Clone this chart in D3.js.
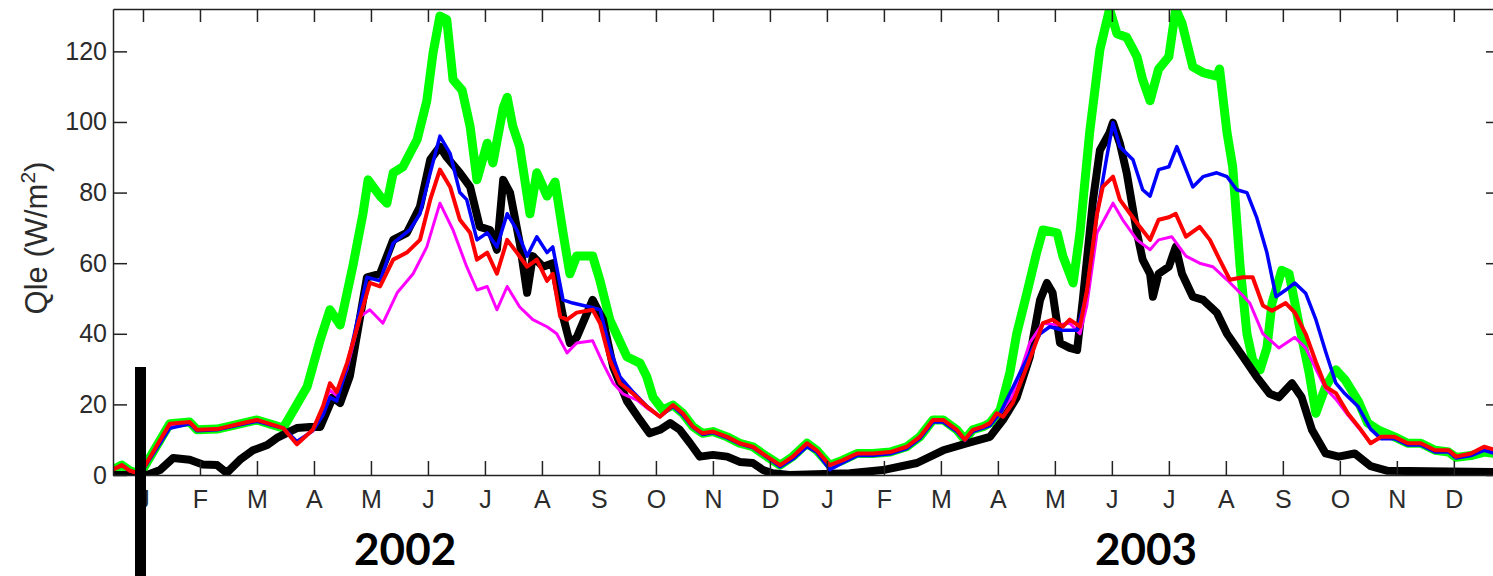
<!DOCTYPE html>
<html lang="en">
<head>
<meta charset="UTF-8">
<title>Qle 2002-2003</title>
<script src="https://d3js.org/d3.v7.min.js"></script>
<style>
  body { margin: 0; background: white; overflow: hidden; }
  svg { display: block; }
  .axis text { font-family: "Liberation Sans", Arial, sans-serif; font-size: 25px; fill: #2b2b2b; }
  .axis path, .axis line { stroke: #222; stroke-width: 1.5; }
</style>
</head>
<body>
<svg id="chart"></svg>
<script>
// month index: 0 = Jan 2002, 12 = Jan 2003
const monthLabels = ["J","F","M","A","M","J","J","A","S","O","N","D",
                     "J","F","M","A","M","J","J","A","S","O","N","D"];
const yTicks = [0, 20, 40, 60, 80, 100, 120];
const years = [{ label: "2002", month: 4.6 }, { label: "2003", month: 17.6 }];

// [month, Qle W/m2]
const red = [[-0.53,1.5],[-0.37,2.8],[-0.23,1.2],[-0.05,0.3],[0.47,14.5],[0.82,15],[0.95,12.8],[1.30,13],[1.70,14.5],[2.00,15.6],[2.28,14.2],[2.46,13.3],[2.70,8.7],[2.98,12.8],[3.16,19.5],[3.28,26],[3.40,23.5],[3.58,31.7],[3.98,54.4],[4.16,53.4],[4.39,61],[4.63,63],[4.86,66.6],[5.04,78],[5.21,86.5],[5.39,81.6],[5.56,72.3],[5.74,68.6],[5.86,61],[6.04,63],[6.21,57],[6.39,66.6],[6.56,63],[6.74,59],[6.91,61],[7.09,55],[7.19,57],[7.32,44.9],[7.44,44],[7.61,46],[7.89,46.8],[8.02,43],[8.19,32.6],[8.37,26],[8.60,23],[8.84,19.4],[9.07,16.5],[9.30,19.8],[9.47,17.5],[9.65,13.7],[9.82,11.8],[10.00,12.3],[10.25,10.8],[10.47,9],[10.70,8],[10.95,5.2],[11.18,2.8],[11.40,5.2],[11.65,9],[11.82,7],[12.05,2.8],[12.28,4.2],[12.53,6.1],[12.81,6.1],[13.11,6.5],[13.40,8],[13.63,10.8],[13.86,15.6],[14.04,15.6],[14.28,12.8],[14.42,10],[14.56,12.8],[14.74,13.7],[14.86,14.7],[14.98,17.5],[15.09,16.5],[15.26,20.4],[15.44,27.8],[15.61,35],[15.79,43],[15.96,44],[16.14,42],[16.26,44],[16.44,42],[16.56,52],[16.74,74],[16.84,81.6],[17.02,84.5],[17.14,78],[17.32,74],[17.49,70.3],[17.67,66.6],[17.82,72.3],[18.00,73],[18.12,74],[18.30,67.5],[18.54,70.3],[18.72,66.6],[18.89,61],[19.07,55.3],[19.30,56],[19.47,56],[19.65,48],[19.81,46.5],[20.05,48.7],[20.21,46],[20.40,40],[20.58,32],[20.75,25],[20.93,23.2],[21.14,17.5],[21.37,12.8],[21.54,9],[21.72,10.8],[21.96,10.8],[22.19,9],[22.42,9],[22.67,7],[22.91,7],[23.04,5.2],[23.30,6.1],[23.53,8],[23.75,7],[23.9,6.5]];

const green = [[-0.53,1.5],[-0.37,2.8],[-0.23,1.2],[-0.05,0.3],[0.47,14.5],[0.82,15],[0.95,12.8],[1.30,13],[1.70,14.5],[2.00,15.6],[2.28,14.2],[2.46,13.3],[2.70,20],[2.88,25],[3.11,38.3],[3.28,46.8],[3.46,42.5],[3.68,59],[3.86,74],[3.95,83.6],[4.16,79],[4.28,77],[4.39,85.6],[4.56,87.3],[4.68,91],[4.81,95],[4.98,106],[5.09,119.6],[5.21,130],[5.33,129],[5.44,112],[5.60,109],[5.74,98.7],[5.86,83.6],[6.04,94],[6.14,88.4],[6.32,104],[6.39,107],[6.49,98.7],[6.61,93],[6.79,74],[6.91,85.6],[7.09,79],[7.23,83],[7.37,68.6],[7.49,57],[7.61,62],[7.89,62],[8.02,55],[8.19,44],[8.49,33.5],[8.72,31.7],[8.84,27.8],[8.95,22],[9.12,18.4],[9.30,19.8],[9.47,17.5],[9.65,13.7],[9.82,11.8],[10.00,12.3],[10.25,10.8],[10.47,9],[10.70,8],[10.95,5.2],[11.18,2.8],[11.40,5.2],[11.65,9],[11.82,7],[12.05,2.8],[12.28,4.2],[12.53,6.1],[12.81,6.1],[13.11,6.5],[13.40,8],[13.63,10.8],[13.86,15.6],[14.04,15.6],[14.28,12.8],[14.42,10],[14.56,12.8],[14.74,13.7],[14.86,14.7],[15.04,18.4],[15.21,29],[15.33,40],[15.51,51.6],[15.68,63],[15.79,69.4],[16.04,68.6],[16.14,62],[16.32,54.4],[16.44,68.6],[16.61,97],[16.79,120.5],[16.96,132],[17.09,125],[17.26,124],[17.44,118.5],[17.54,112],[17.67,106],[17.82,115],[18.00,118.5],[18.12,132],[18.23,128],[18.42,115.6],[18.60,114],[18.84,113],[18.89,115],[19.02,97],[19.12,87.3],[19.25,59],[19.37,40],[19.47,32.6],[19.60,29.8],[19.72,36],[19.81,48.7],[19.98,58],[20.11,57],[20.28,43],[20.46,29],[20.58,17.5],[20.75,25],[20.93,29.8],[21.09,27],[21.32,21],[21.49,14.7],[21.67,12.8],[21.96,10.8],[22.19,9],[22.42,9],[22.67,7],[22.91,6.5],[23.04,5],[23.30,5.5],[23.53,6.5],[23.75,6],[23.9,5.8]];

const blue = [[-0.53,1.5],[-0.37,2.8],[-0.23,1.2],[-0.05,0.3],[0.47,13.2],[0.82,14.5],[0.95,12.5],[1.30,12.8],[1.70,14.2],[2.00,15.2],[2.28,14],[2.46,13.3],[2.70,9.5],[2.98,12.5],[3.16,17],[3.28,22],[3.40,21],[3.58,30.6],[3.93,56],[4.16,55],[4.39,65.7],[4.68,69.4],[4.86,74],[5.04,85.6],[5.21,96],[5.39,91],[5.56,80],[5.68,78],[5.86,66.6],[6.04,68.6],[6.21,64.6],[6.39,74],[6.56,69.4],[6.74,62],[6.91,67.5],[7.09,63],[7.19,64.6],[7.37,49.6],[7.54,48.7],[7.84,47.6],[8.02,46.8],[8.19,36],[8.37,27.8],[8.60,23.5],[8.84,19.5],[9.07,16.5],[9.30,19.5],[9.47,17],[9.65,13.5],[9.82,11.5],[10.00,12],[10.25,10.5],[10.47,8.8],[10.70,7.8],[10.95,5],[11.18,2.3],[11.40,4.5],[11.65,8],[11.82,6.5],[12.05,1.5],[12.28,3.5],[12.53,5.5],[12.81,5.5],[13.11,6],[13.40,7.5],[13.63,10.3],[13.86,15],[14.04,15],[14.28,12.3],[14.42,9.8],[14.56,12.3],[14.74,13.3],[14.86,14],[15.04,17.5],[15.39,29],[15.74,40],[15.91,42],[16.14,41],[16.39,41],[16.56,51.6],[16.74,74],[16.91,90],[17.02,99.8],[17.14,93],[17.37,89.3],[17.54,80.8],[17.67,79],[17.82,86.5],[18.00,87.3],[18.14,93],[18.30,86.5],[18.42,81.6],[18.60,84.5],[18.84,85.6],[19.02,84.5],[19.19,80.8],[19.37,80],[19.54,73],[19.72,63],[19.88,50.5],[20.05,52.4],[20.21,54.4],[20.40,51.5],[20.58,44],[20.75,35],[20.93,26],[21.09,23],[21.32,19.4],[21.54,13],[21.72,10.3],[21.96,10.3],[22.19,8.5],[22.42,8.5],[22.67,6.5],[22.91,6.5],[23.04,4.8],[23.30,5.5],[23.53,7],[23.75,6],[23.9,5.8]];

const magenta = [[-0.53,1.5],[-0.37,2.8],[-0.23,1.2],[-0.05,0.3],[0.47,14],[0.82,15],[0.95,12.8],[1.30,13],[1.70,14.5],[2.00,15.6],[2.28,14.2],[2.46,13.3],[2.70,8.7],[2.98,12.8],[3.16,19],[3.28,24],[3.40,22.5],[3.58,30],[3.81,44.9],[3.98,46.8],[4.21,43],[4.46,51.6],[4.74,57],[4.98,64.6],[5.21,77],[5.44,69.4],[5.68,59],[5.86,52.4],[6.04,53.4],[6.21,46.8],[6.39,53.4],[6.61,47.6],[6.84,44],[7.09,42],[7.26,40],[7.44,34.6],[7.61,37.4],[7.89,38],[8.07,31.7],[8.25,26],[8.42,23],[8.67,21.2],[8.84,19],[9.07,16.5],[9.30,19.5],[9.47,17.2],[9.65,13.5],[9.82,11.6],[10.00,12.1],[10.25,10.6],[10.47,8.8],[10.70,7.8],[10.95,5],[11.18,2.6],[11.40,5],[11.65,8.7],[11.82,6.8],[12.05,2.6],[12.28,4],[12.53,5.9],[12.81,5.9],[13.11,6.3],[13.40,7.8],[13.63,10.6],[13.86,15.3],[14.04,15.3],[14.28,12.6],[14.42,9.8],[14.56,12.6],[14.74,13.5],[14.86,14.4],[15.04,17.5],[15.26,22.5],[15.56,37.5],[15.79,43],[16.04,42.5],[16.26,43],[16.44,40],[16.56,48],[16.74,68.6],[17.02,77],[17.19,72.3],[17.44,66.6],[17.67,63.8],[17.82,66.6],[18.05,67.5],[18.30,62],[18.54,60],[18.77,59],[19.02,55.3],[19.25,51.6],[19.42,48.7],[19.65,40],[19.93,36],[20.21,39],[20.40,36],[20.58,30],[20.75,24.5],[20.93,21.5],[21.14,17],[21.37,12.5],[21.54,9],[21.72,10.5],[21.96,10.5],[22.19,8.8],[22.42,8.8],[22.67,6.8],[22.91,6.8],[23.04,5],[23.30,5.8],[23.53,7.5],[23.75,6.8],[23.9,6.3]];

const black = [[-0.53,0],[0.07,0],[0.30,1.4],[0.53,4.8],[0.82,4.3],[1.05,3.0],[1.30,2.8],[1.47,0.6],[1.70,4.3],[1.93,7],[2.18,8.5],[2.35,10.5],[2.70,13.3],[2.93,13.6],[3.11,13.6],[3.33,22],[3.46,20.4],[3.63,28],[3.93,56],[4.16,57],[4.39,66.6],[4.63,68.6],[4.86,76],[5.04,89.3],[5.21,93],[5.33,90],[5.56,85.6],[5.74,81.6],[5.91,70.3],[6.09,69.4],[6.21,63.8],[6.32,83.6],[6.44,80],[6.61,65.8],[6.74,51.6],[6.84,62],[7.02,59],[7.19,60],[7.37,44.9],[7.49,37.4],[7.61,39],[7.89,49.6],[8.07,44],[8.25,30.6],[8.49,21],[8.72,15.6],[8.89,11.8],[9.07,12.8],[9.25,14.7],[9.42,12.8],[9.60,9],[9.77,5.2],[10.00,5.7],[10.25,5.2],[10.47,3.7],[10.70,3.4],[10.88,1.4],[11.05,0.5],[11.35,0],[12.40,0.5],[12.98,1.4],[13.58,3.4],[14.04,7],[14.46,9],[14.86,10.8],[15.09,15.6],[15.33,22],[15.56,33.5],[15.74,49.6],[15.86,54.4],[15.96,51.6],[16.09,37.4],[16.26,36],[16.39,35.4],[16.49,49.6],[16.67,78],[16.79,92],[16.96,97],[17.02,99.8],[17.14,94],[17.26,85.6],[17.44,68.6],[17.54,61],[17.67,57],[17.72,50.5],[17.82,57],[18.00,59],[18.12,64.6],[18.23,57],[18.42,50.5],[18.60,49.6],[18.84,46],[19.02,40],[19.30,33.5],[19.54,27.8],[19.77,23],[19.93,22],[20.16,26],[20.33,22],[20.51,12.8],[20.75,6.1],[20.98,5.2],[21.26,6.1],[21.54,2.5],[21.84,1.2],[22.91,1],[23.9,0.8]];

// drawing order: widest first
const series = [
  { name: "green",   data: green,   color: "#00ff00", width: 9 },
  { name: "black",   data: black,   color: "#000000", width: 8 },
  { name: "magenta", data: magenta, color: "#ff00ff", width: 3 },
  { name: "blue",    data: blue,    color: "#0000ff", width: 3.5 },
  { name: "red",     data: red,     color: "#ff0000", width: 4 }
];

const W = 1493, H = 576;
const plotL = 113, plotR = 1500, plotT = 9, plotB = 475;

const svg = d3.select("#chart").attr("width", W).attr("height", H);

const x = d3.scaleLinear().domain([-0.526, 23.81]).range([plotL, plotR]);
const y = d3.scaleLinear().domain([0, 132]).range([plotB, plotT]);

svg.append("clipPath").attr("id", "plot-clip")
  .append("rect")
  .attr("x", plotL).attr("y", plotT)
  .attr("width", plotR - plotL).attr("height", plotB - plotT);

const line = d3.line().x(d => x(d[0])).y(d => y(d[1]));

svg.append("g").attr("clip-path", "url(#plot-clip)")
  .selectAll("path")
  .data(series)
  .join("path")
  .attr("d", d => line(d.data))
  .attr("fill", "none")
  .attr("stroke", d => d.color)
  .attr("stroke-width", d => d.width)
  .attr("stroke-linejoin", "round")
  .attr("stroke-linecap", "round");

const monthTicks = d3.range(monthLabels.length);

// bottom axis, ticks pointing inward
svg.append("g").attr("class", "axis")
  .attr("transform", `translate(0,${plotB})`)
  .call(d3.axisBottom(x).tickValues(monthTicks)
    .tickFormat(i => monthLabels[i])
    .tickSizeInner(-14).tickSizeOuter(0).tickPadding(15));

// top axis, no labels
svg.append("g").attr("class", "axis")
  .attr("transform", `translate(0,${plotT})`)
  .call(d3.axisTop(x).tickValues(monthTicks).tickFormat("")
    .tickSizeInner(-13).tickSizeOuter(0));

// left axis
svg.append("g").attr("class", "axis")
  .attr("transform", `translate(${plotL},0)`)
  .call(d3.axisLeft(y).tickValues(yTicks)
    .tickSizeInner(-14).tickSizeOuter(0).tickPadding(6));

// right axis, no labels
svg.append("g").attr("class", "axis")
  .attr("transform", `translate(${plotR},0)`)
  .call(d3.axisRight(y).tickValues(yTicks).tickFormat("")
    .tickSizeInner(-14).tickSizeOuter(0));

// y title
const yt = svg.append("text")
  .attr("transform", "translate(47,238) rotate(-90)")
  .attr("text-anchor", "middle")
  .style("font-family", "'Liberation Sans', Arial, sans-serif")
  .style("font-size", "31px")
  .style("fill", "#2b2b2b");
yt.append("tspan").text("Qle (W/m");
yt.append("tspan").attr("dy", -12).style("font-size", "21px").text("2");
yt.append("tspan").attr("dy", 12).text(")");

// year labels
svg.selectAll(".year")
  .data(years)
  .join("text")
  .attr("class", "year")
  .attr("x", d => x(d.month))
  .attr("y", 565)
  .attr("text-anchor", "middle")
  .style("font-family", "Lato, 'Open Sans', sans-serif")
  .style("font-weight", "bold")
  .style("font-size", "44px")
  .style("fill", "#000")
  .text(d => d.label);

// black marker bar at the start of 2002
svg.append("rect")
  .attr("x", 135).attr("y", 367)
  .attr("width", 11).attr("height", H - 367)
  .attr("fill", "#000");
</script>
</body>
</html>
